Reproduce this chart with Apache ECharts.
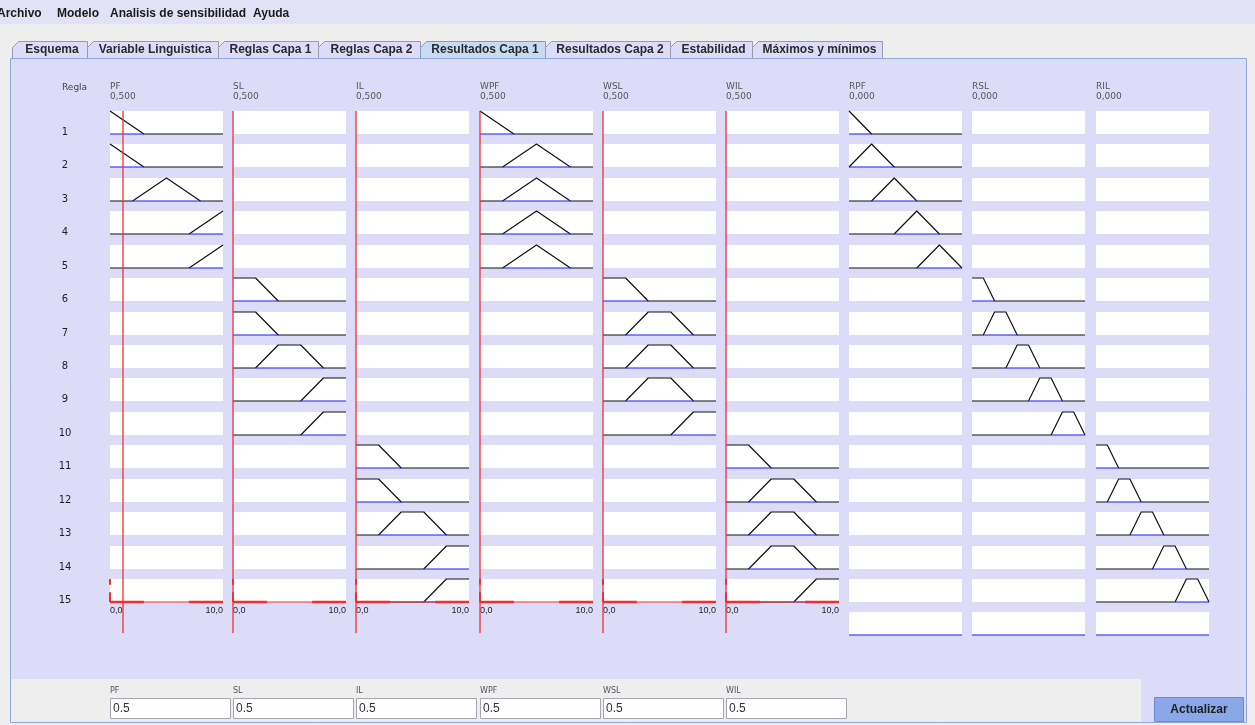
<!DOCTYPE html>
<html>
<head>
<meta charset="utf-8">
<script src="https://cdn.jsdelivr.net/npm/echarts@6/dist/echarts.min.js"></script>
<style>
  html, body { margin: 0; padding: 0; background: #eeeeee; }
  #main { width: 1255px; height: 725px; }
</style>
</head>
<body>
<div id="main"></div>
<script>
// variables shown as columns, with the current value printed under the name
const variables = ["PF", "SL", "IL", "WPF", "WSL", "WIL", "RPF", "RSL", "RIL"];
const currentValues = ["0,500", "0,500", "0,500", "0,500", "0,500", "0,500", "0,000", "0,000", "0,000"];
const rules = ["1", "2", "3", "4", "5", "6", "7", "8", "9", "10", "11", "12", "13", "14", "15"];
// first rule that uses a set of each column (5 rules each)
const firstRule = [1, 6, 11, 1, 6, 11, 1, 6, 11];

// membership functions, [x, degree] on a 0..10 universe
const mfPF = [
  [[0, 1], [3, 0]],
  [[0, 1], [3, 0]],
  [[2, 0], [5, 1], [8, 0]],
  [[7, 0], [10, 1]],
  [[7, 0], [10, 1]],
];
const mfSL = [
  [[0, 1], [2, 1], [4, 0]],
  [[0, 1], [2, 1], [4, 0]],
  [[2, 0], [4, 1], [6, 1], [8, 0]],
  [[6, 0], [8, 1], [10, 1]],
  [[6, 0], [8, 1], [10, 1]],
];
const mfIL = [
  [[0, 1], [2, 1], [4, 0]],
  [[0, 1], [2, 1], [4, 0]],
  [[2, 0], [4, 1], [6, 1], [8, 0]],
  [[6, 0], [8, 1], [10, 1]],
  [[6, 0], [8, 1], [10, 1]],
];
const mfWPF = [
  [[0, 1], [3, 0]],
  [[2, 0], [5, 1], [8, 0]],
  [[2, 0], [5, 1], [8, 0]],
  [[2, 0], [5, 1], [8, 0]],
  [[2, 0], [5, 1], [8, 0]],
];
const mfWSL = [
  [[0, 1], [2, 1], [4, 0]],
  [[2, 0], [4, 1], [6, 1], [8, 0]],
  [[2, 0], [4, 1], [6, 1], [8, 0]],
  [[2, 0], [4, 1], [6, 1], [8, 0]],
  [[6, 0], [8, 1], [10, 1]],
];
const mfWIL = [
  [[0, 1], [2, 1], [4, 0]],
  [[2, 0], [4, 1], [6, 1], [8, 0]],
  [[2, 0], [4, 1], [6, 1], [8, 0]],
  [[2, 0], [4, 1], [6, 1], [8, 0]],
  [[6, 0], [8, 1], [10, 1]],
];
const mfRPF = [
  [[0, 1], [2, 0]],
  [[0, 0], [2, 1], [4, 0]],
  [[2, 0], [4, 1], [6, 0]],
  [[4, 0], [6, 1], [8, 0]],
  [[6, 0], [8, 1], [10, 0]],
];
const mfRSL = [
  [[0, 1], [1, 1], [2, 0]],
  [[1, 0], [2, 1], [3, 1], [4, 0]],
  [[3, 0], [4, 1], [5, 1], [6, 0]],
  [[5, 0], [6, 1], [7, 1], [8, 0]],
  [[7, 0], [8, 1], [9, 1], [10, 0]],
];
const mfRIL = [
  [[0, 1], [1, 1], [2, 0]],
  [[1, 0], [2, 1], [3, 1], [4, 0]],
  [[3, 0], [4, 1], [5, 1], [6, 0]],
  [[5, 0], [6, 1], [7, 1], [8, 0]],
  [[7, 0], [8, 1], [9, 1], [10, 0]],
];
const mfByColumn = [mfPF, mfSL, mfIL, mfWPF, mfWSL, mfWIL, mfRPF, mfRSL, mfRIL];

// red cursor of each input, and the red bands on the axis row
const cursorX = [1.15, 0, 0, 0, 0, 0];
const lowBand = [0, 3];
const highBand = [7, 10];

const inputValues = ["0.5", "0.5", "0.5", "0.5", "0.5", "0.5"];
const menuItems = ["Archivo", "Modelo", "Analisis de sensibilidad", "Ayuda"];
const tabNames = ["Esquema", "Variable Linguistica", "Reglas Capa 1", "Reglas Capa 2",
  "Resultados Capa 1", "Resultados Capa 2", "Estabilidad", "Máximos y mínimos"];
const selectedTab = 4;

// layout
const menuX = [-3, 57, 110, 253];
const tabEdges = [12, 87, 218, 318, 420, 545, 670, 752, 882];
const X0 = 110, DX = 123.2, CW = 113;
const Y0 = 111, DY = 33.43, CH = 23;
const BLACK = "#111111", BLUE = "#1a1aff", RED = "#f03030";
const SMALL = '9px "DejaVu Sans"';
const BOLD = 'bold 12px "Liberation Sans"';

const grid = [], xAxis = [], yAxis = [], series = [];

function addGrid(left, top, width, height, white, labels) {
  const i = grid.length;
  grid.push({
    left: Math.round(left), top: Math.round(top), width, height,
    show: white, backgroundColor: "#ffffff", borderWidth: 0,
  });
  xAxis.push({
    gridIndex: i, type: "value", min: 0, max: 10, interval: 10,
    show: labels,
    axisLine: { show: false }, axisTick: { show: false }, splitLine: { show: false },
    axisLabel: {
      show: labels, margin: 4, fontSize: 9, color: "#1e1e1e",
      fontFamily: "Liberation Sans",
      alignMinLabel: "left", alignMaxLabel: "right",
      formatter: (v) => v.toFixed(1).replace(".", ","),
    },
  });
  yAxis.push({ gridIndex: i, type: "value", min: 0, max: 1, show: false });
  return i;
}

function addLine(gi, data, color, width) {
  series.push({
    type: "line", xAxisIndex: gi, yAxisIndex: gi, data,
    symbol: "none", silent: true, clip: false, animation: false,
    lineStyle: { color, width },
  });
}

for (let c = 0; c < variables.length; c++) {
  const left = X0 + c * DX;
  for (let r = 1; r <= rules.length; r++) {
    const top = Y0 + (r - 1) * DY;
    const axisRow = r === 15 && c < 6;
    const gi = addGrid(left, top, CW, CH, true, axisRow);
    const k = r - firstRule[c];
    if (k >= 0 && k < 5) {
      const shape = mfByColumn[c][k];
      const full = shape.slice();
      if (full[0][0] > 0) full.unshift([0, 0]);
      if (full[full.length - 1][0] < 10) full.push([10, 0]);
      addLine(gi, full, BLACK, 1.2);
      addLine(gi, [[shape[0][0], 0], [shape[shape.length - 1][0], 0]], BLUE, 1.2);
    }
    if (axisRow) {
      addLine(gi, [[0, 0], [10, 0]], RED, 1.2);
      addLine(gi, [[lowBand[0], 0], [lowBand[1], 0]], RED, 2.5);
      addLine(gi, [[highBand[0], 0], [highBand[1], 0]], RED, 2.5);
      addLine(gi, [[0, 1], [0, 0.75]], RED, 2);
      addLine(gi, [[0, 0.42], [0, 0]], RED, 2);
    }
  }
  if (c >= 6) {
    const gi = addGrid(left, Y0 + 15 * DY, CW, CH, true, false);
    addLine(gi, [[0, 0], [10, 0]], BLUE, 1.2);
  } else {
    const gi = addGrid(left, Y0, CW, 522, false, false);
    addLine(gi, [[cursorX[c], 0], [cursorX[c], 1]], RED, 1.3);
  }
}

// window chrome
function rect(x, y, w, h, fill, stroke, z) {
  return {
    type: "rect", z: z === undefined ? -10 : z, silent: true,
    shape: { x, y, width: w, height: h },
    style: { fill, stroke: stroke || null, lineWidth: stroke ? 1 : 0 },
  };
}
function text(x, y, s, font, fill, align) {
  return {
    type: "text", x, y, z: 20, silent: true,
    style: { text: s, font, fill, align: align || "left", verticalAlign: "middle" },
  };
}

const chrome = [];
chrome.push(rect(0, 0, 1255, 725, "#eeeeee", null, -20));
chrome.push(rect(0, 0, 1255, 24, "#e2e2f7", null, -19));
menuItems.forEach((m, i) => chrome.push(text(menuX[i], 14, m, BOLD, "#1a1a1a")));

for (let t = 0; t < tabNames.length; t++) {
  const x1 = tabEdges[t] + 0.5, x2 = tabEdges[t + 1] + 0.5;
  const sel = t === selectedTab;
  chrome.push({
    type: "polygon", z: -8, silent: true,
    shape: { points: [[x1, 58.5], [x1, 47.5], [x1 + 6, 41.5], [x2, 41.5], [x2, 58.5]] },
    style: { fill: sel ? "#c7dcf2" : "#dddcf8", stroke: sel ? "#7f9ccb" : "#9a9aa8", lineWidth: 1 },
  });
  chrome.push(text((x1 + x2) / 2 + 2, 50, tabNames[t], BOLD, "#2a2a2a", "center"));
}

// main panel
chrome.push(rect(10.5, 58.5, 1236, 664, "#dcdcf9", "#8ea8d8", -7));
chrome.push(rect(11, 679, 1130, 43, "#eeeeee", null, -6));

chrome.push(text(62, 88, "Regla", SMALL, "#444"));
variables.forEach((v, c) => {
  const x = Math.round(X0 + c * DX);
  chrome.push(text(x, 87, v, SMALL, "#555"));
  chrome.push(text(x, 97, currentValues[c], SMALL, "#555"));
});
rules.forEach((r, i) => {
  chrome.push(text(65, Math.round(Y0 + i * DY) + 21, r, '10px "DejaVu Sans"', "#1e1e1e", "center"));
});

// input fields
inputValues.forEach((v, i) => {
  const x = Math.round(X0 + i * DX);
  chrome.push(text(x, 691, variables[i], '8px "DejaVu Sans"', "#555"));
  chrome.push(rect(x + 0.5, 698.5, 120, 20, "#ffffff", "#a3a9b3", -5));
  chrome.push(text(x + 3, 709, v, '12px "Liberation Sans"', "#333"));
});

chrome.push(rect(1154.5, 697.5, 89, 24, "#8aa8e8", "#6f8ac4", -5));
chrome.push(text(1199, 710, "Actualizar", BOLD, "#1e1e1e", "center"));

const chart = echarts.init(document.getElementById("main"));
chart.setOption({
  animation: false,
  backgroundColor: "transparent",
  grid, xAxis, yAxis, series,
  graphic: { elements: chrome },
});
</script>
</body>
</html>
